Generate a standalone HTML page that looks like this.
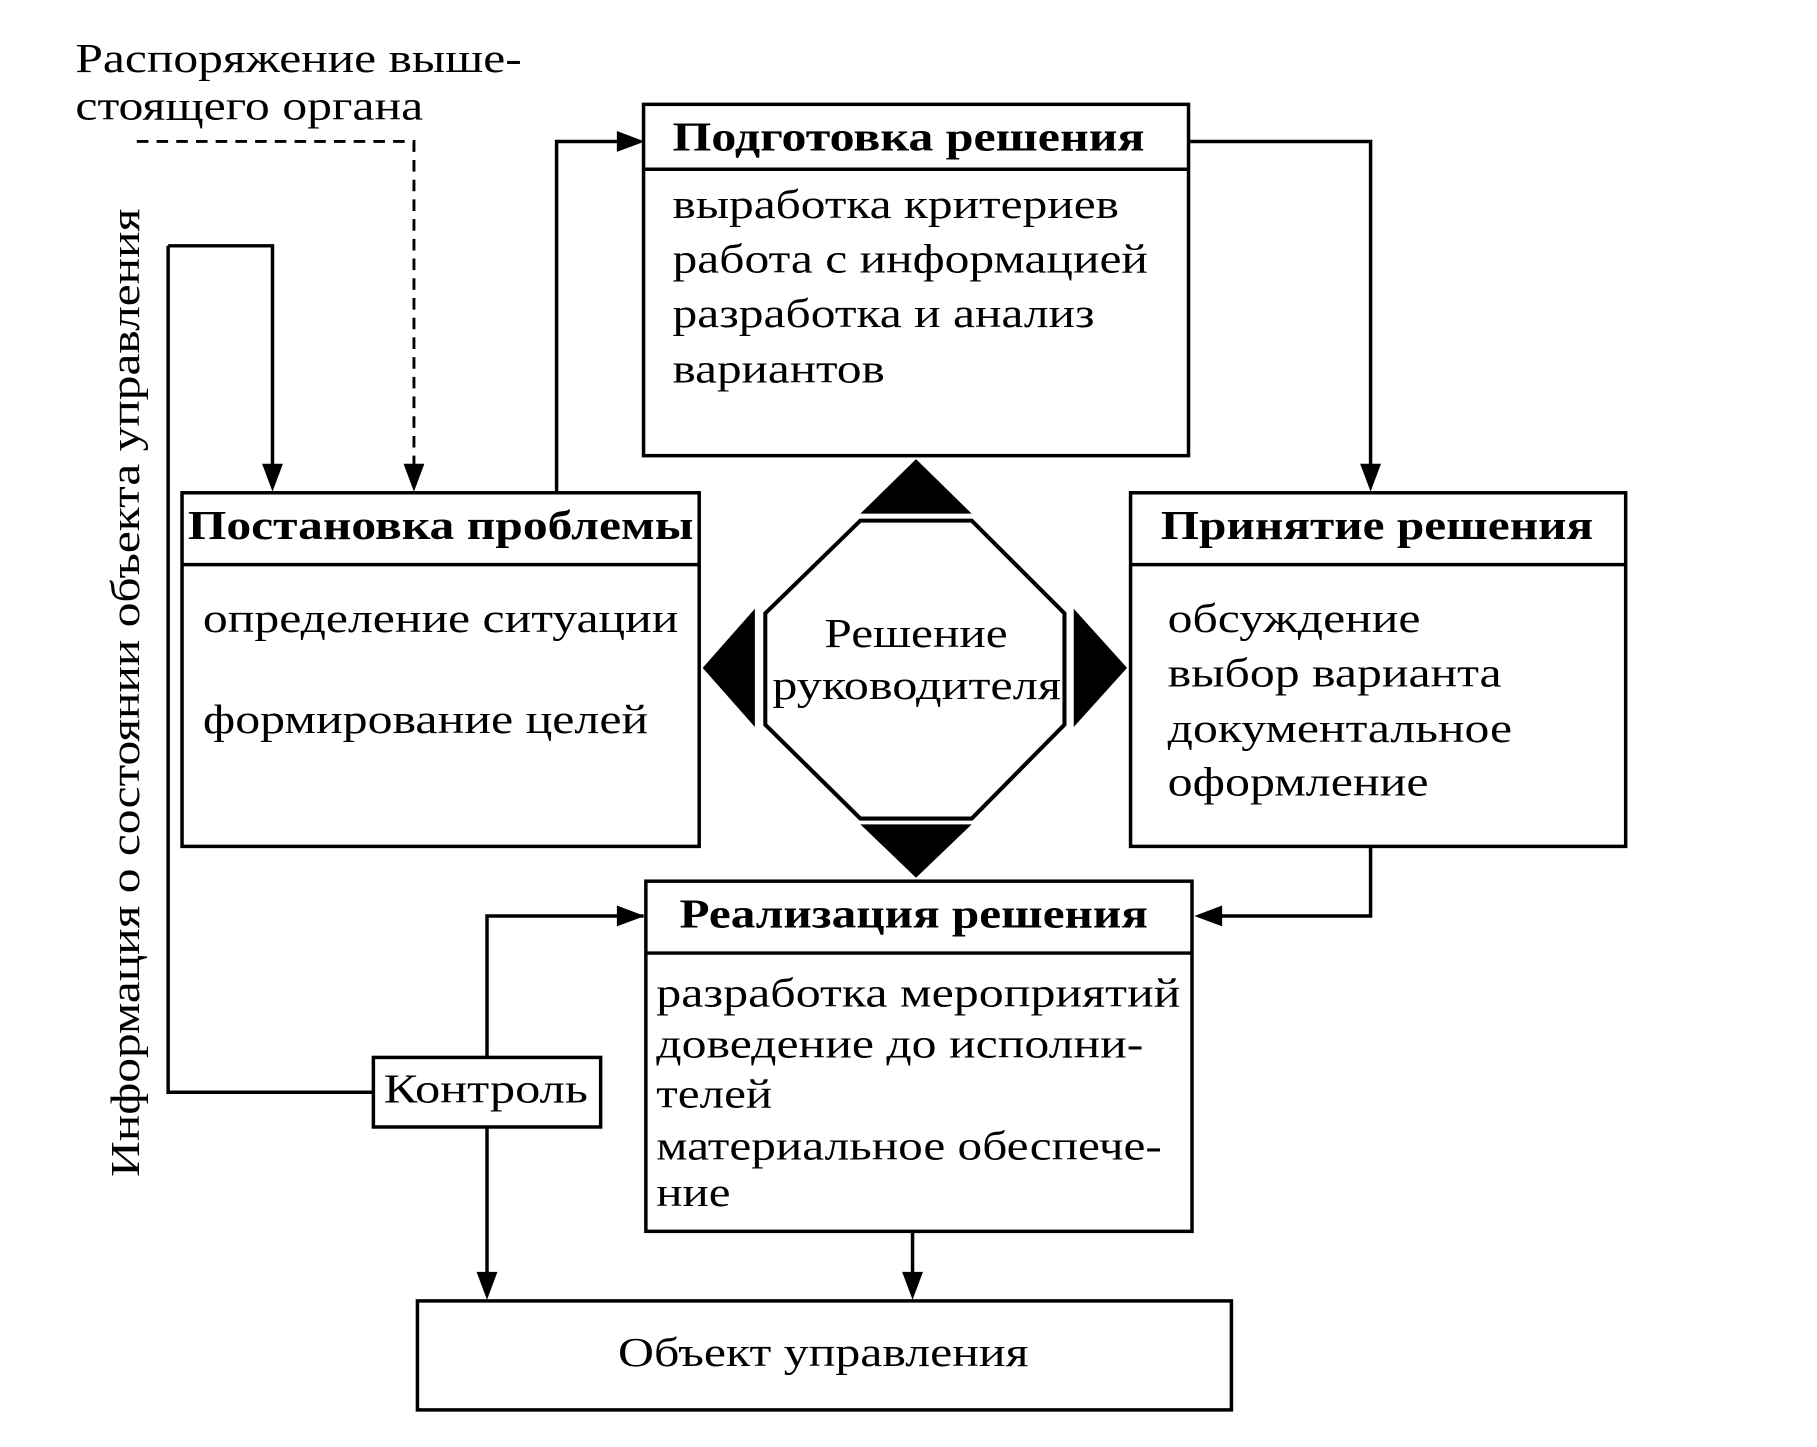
<!DOCTYPE html>
<html><head><meta charset="utf-8"><style>html,body{margin:0;padding:0;background:#fff}svg{display:block}</style></head>
<body>
<svg width="1817" height="1447" viewBox="0 0 1567 1248" preserveAspectRatio="none" xmlns="http://www.w3.org/2000/svg" font-family="'Liberation Serif', serif" font-size="36">
<rect width="1567" height="1248" fill="#fff"/>
<g fill="none" stroke="#000" stroke-width="3">
<rect x="157" y="425" width="446" height="305"/><line x1="157" y1="487" x2="603" y2="487"/>
<rect x="555" y="90" width="470" height="303"/><line x1="555" y1="146" x2="1025" y2="146"/>
<rect x="975" y="425" width="427" height="305"/><line x1="975" y1="487" x2="1402" y2="487"/>
<rect x="557" y="760" width="471" height="302"/><line x1="557" y1="822" x2="1028" y2="822"/>
<rect x="322" y="912" width="196" height="60"/>
<rect x="360" y="1122" width="702" height="94"/>
<path d="M118,122 H357 V405" stroke-dasharray="10,7" stroke-width="2.5"/>
<path d="M145,212 H235 V405"/>
<path d="M145,212 V942 H322"/>
<path d="M480,425 V122 H535"/>
<path d="M1025,122 H1182 V405"/>
<path d="M1182,730 V790 H1048"/>
<path d="M555,790 H420 V912"/>
<path d="M420,972 V1102"/>
<path d="M787,1062 V1102"/>
<path d="M742,449 H838 L918,529 V625 L838,706 H742 L660,625 V529 Z" stroke-width="3.5"/>
</g>
<g fill="#000">
<path d="M235,424 L226,400 L244,400 Z"/>
<path d="M357,424 L348,400 L366,400 Z"/>
<path d="M556,122 L532,113 L532,131 Z"/>
<path d="M1182,424 L1173,400 L1191,400 Z"/>
<path d="M1030,790 L1054,781 L1054,799 Z"/>
<path d="M556,790 L532,781 L532,799 Z"/>
<path d="M420,1121 L411,1097 L429,1097 Z"/>
<path d="M787,1121 L778,1097 L796,1097 Z"/>
<path d="M790,396 L838,443 L742,443 Z"/>
<path d="M790,757 L838,711 L742,711 Z"/>
<path d="M606,576 L651,525 L651,627 Z"/>
<path d="M972,576 L926,525 L926,627 Z"/>
</g>
<g fill="#000">
<text x="65" y="62" textLength="385" lengthAdjust="spacingAndGlyphs">Распоряжение выше-</text>
<text x="65" y="103" textLength="300" lengthAdjust="spacingAndGlyphs">стоящего органа</text>
<text transform="translate(120,1015) rotate(-90)" textLength="835" lengthAdjust="spacingAndGlyphs">Информация о состоянии объекта управления</text>

<text x="162" y="465" font-weight="bold" textLength="436" lengthAdjust="spacingAndGlyphs">Постановка проблемы</text>
<text x="175" y="545" textLength="410" lengthAdjust="spacingAndGlyphs">определение ситуации</text>
<text x="175" y="632" textLength="384" lengthAdjust="spacingAndGlyphs">формирование целей</text>

<text x="580" y="130" font-weight="bold" textLength="407" lengthAdjust="spacingAndGlyphs">Подготовка решения</text>
<text x="580" y="188" textLength="385" lengthAdjust="spacingAndGlyphs">выработка критериев</text>
<text x="580" y="235" textLength="410" lengthAdjust="spacingAndGlyphs">работа с информацией</text>
<text x="580" y="282" textLength="364" lengthAdjust="spacingAndGlyphs">разработка и анализ</text>
<text x="580" y="330" textLength="183" lengthAdjust="spacingAndGlyphs">вариантов</text>

<text x="1001" y="465" font-weight="bold" textLength="373" lengthAdjust="spacingAndGlyphs">Принятие решения</text>
<text x="1007" y="545" textLength="218" lengthAdjust="spacingAndGlyphs">обсуждение</text>
<text x="1007" y="592" textLength="288" lengthAdjust="spacingAndGlyphs">выбор варианта</text>
<text x="1007" y="640" textLength="297" lengthAdjust="spacingAndGlyphs">документальное</text>
<text x="1007" y="686" textLength="225" lengthAdjust="spacingAndGlyphs">оформление</text>

<text x="586" y="800" font-weight="bold" textLength="404" lengthAdjust="spacingAndGlyphs">Реализация решения</text>
<text x="566" y="868" textLength="452" lengthAdjust="spacingAndGlyphs">разработка мероприятий</text>
<text x="566" y="912" textLength="420" lengthAdjust="spacingAndGlyphs">доведение до исполни-</text>
<text x="566" y="955" textLength="100" lengthAdjust="spacingAndGlyphs">телей</text>
<text x="566" y="1000" textLength="436" lengthAdjust="spacingAndGlyphs">материальное обеспече-</text>
<text x="566" y="1040" textLength="64" lengthAdjust="spacingAndGlyphs">ние</text>

<text x="331" y="951" textLength="176" lengthAdjust="spacingAndGlyphs">Контроль</text>
<text x="533" y="1178" textLength="354" lengthAdjust="spacingAndGlyphs">Объект управления</text>

<text x="711" y="558" textLength="158" lengthAdjust="spacingAndGlyphs">Решение</text>
<text x="666" y="603" textLength="249" lengthAdjust="spacingAndGlyphs">руководителя</text>
</g>
</svg>
</body></html>
